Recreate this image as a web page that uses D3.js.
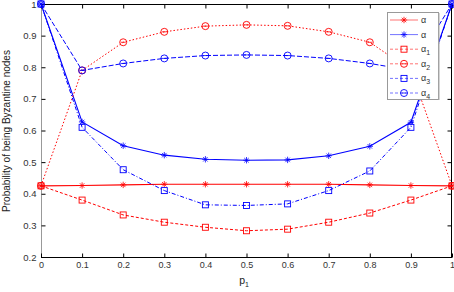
<!DOCTYPE html>
<html><head><meta charset="utf-8">
<script src="https://cdn.jsdelivr.net/npm/d3@7"></script>
<style>body{margin:0;background:#fff}svg{display:block;font-family:"Liberation Sans",Arial,sans-serif}</style>
</head><body><svg id="c" width="454" height="292"></svg>
<script>
const xs = [0,0.1,0.2,0.3,0.4,0.5,0.6,0.7,0.8,0.9,1];
const alphaRed  = [0.425,0.426,0.428,0.43,0.43,0.43,0.43,0.43,0.428,0.426,0.425];
const alphaBlue = [1.0,0.627,0.552,0.522,0.509,0.506,0.507,0.52,0.55,0.626,1.0];
const alpha1 = [0.425,0.38,0.333,0.31,0.294,0.283,0.288,0.31,0.339,0.38,0.425];
const alpha2 = [0.425,0.79,0.879,0.912,0.93,0.934,0.931,0.912,0.879,0.79,0.425];
const alpha3 = [1.0,0.61,0.476,0.41,0.365,0.363,0.368,0.41,0.472,0.61,1.0];
const alpha4 = [1.0,0.79,0.812,0.828,0.837,0.839,0.837,0.828,0.812,0.79,1.0];
const xTicks = [0,0.1,0.2,0.3,0.4,0.5,0.6,0.7,0.8,0.9,1];
const yTicks = [0.2,0.3,0.4,0.5,0.6,0.7,0.8,0.9,1];
const seriesNames = ["α","α","α1","α2","α3","α4"];

const series = [
  {name:seriesNames[0], v:alphaRed, color:"#ff0000", dash:null, marker:"star"},
  {name:seriesNames[1], v:alphaBlue, color:"#0000ff", dash:null, marker:"star"},
  {name:seriesNames[2], v:alpha1, color:"#ff0000", dash:"3,2", marker:"square"},
  {name:seriesNames[3], v:alpha2, color:"#ff0000", dash:"1.5,2", marker:"circle"},
  {name:seriesNames[4], v:alpha3, color:"#0000ff", dash:"4,2,1,2", marker:"square"},
  {name:seriesNames[5], v:alpha4, color:"#0000ff", dash:"5,2", marker:"circle"}
];

const svg = d3.select("#c");
const L=41, R=452, T=4, B=257;
const x = d3.scaleLinear().domain([0,1]).range([L,R]);
const y = d3.scaleLinear().domain([0.2,1]).range([B,T]);

// frame
svg.append("line").attr("x1",L).attr("x2",R).attr("y1",T+0.5).attr("y2",T+0.5).attr("stroke","#000");
svg.append("line").attr("x1",L).attr("x2",R).attr("y1",B+0.5).attr("y2",B+0.5).attr("stroke","#000");
svg.append("line").attr("x1",R-0.5).attr("x2",R-0.5).attr("y1",T).attr("y2",B).attr("stroke","#000");
svg.append("line").attr("x1",L+0.5).attr("x2",L+0.5).attr("y1",T).attr("y2",B).attr("stroke","#999");

const tickFont = 9;
// x axis bottom
const gx = svg.append("g").attr("transform",`translate(0,${B+0.5})`)
  .call(d3.axisBottom(x).tickValues(xTicks).tickSize(-4).tickPadding(4).tickFormat(d=>d3.format("~g")(d)));
gx.select(".domain").remove();
gx.selectAll("line").attr("stroke","#000");
gx.selectAll("text").attr("font-size",tickFont).attr("fill","#333").attr("font-family","Liberation Sans, Arial");
// x axis top ticks
const gxt = svg.append("g").attr("transform",`translate(0,${T+0.5})`)
  .call(d3.axisTop(x).tickValues(xTicks).tickSize(-4).tickFormat(""));
gxt.select(".domain").remove();
gxt.selectAll("line").attr("stroke","#000");
// y axis left
const gy = svg.append("g").attr("transform",`translate(${L+0.5},0)`)
  .call(d3.axisLeft(y).tickValues(yTicks).tickSize(-4).tickPadding(5).tickFormat(d=>d3.format("~g")(d)));
gy.select(".domain").remove();
gy.selectAll("line").attr("stroke","#000");
gy.selectAll("text").attr("font-size",tickFont+0.5).attr("fill","#333").attr("font-family","Liberation Sans, Arial");
// y axis right ticks
const gyr = svg.append("g").attr("transform",`translate(${R-0.5},0)`)
  .call(d3.axisRight(y).tickValues(yTicks).tickSize(-4).tickFormat(""));
gyr.select(".domain").remove();
gyr.selectAll("line").attr("stroke","#000");

// labels
svg.append("text").attr("transform","translate(10,131) rotate(-90)").attr("text-anchor","middle")
  .attr("font-size",10).attr("fill","#222").text("Probability of being Byzantine nodes");
const xl = svg.append("text").attr("x",244).attr("y",284).attr("text-anchor","middle").attr("font-size",10.5).attr("fill","#222");
xl.append("tspan").text("p");
xl.append("tspan").attr("font-size",7).attr("dy",3).text("1");

const line = d3.line().x((d,i)=>x(xs[i])).y(d=>y(d));

function drawMarker(g, type, cx, cy, color){
  if(type==="star"){
    const s=3.2;
    g.append("path").attr("d",`M${cx-s},${cy}H${cx+s}M${cx},${cy-s}V${cy+s}M${cx-s*0.7},${cy-s*0.7}L${cx+s*0.7},${cy+s*0.7}M${cx-s*0.7},${cy+s*0.7}L${cx+s*0.7},${cy-s*0.7}`)
      .attr("stroke",color).attr("stroke-width",0.8).attr("fill","none");
  } else if(type==="square"){
    g.append("rect").attr("x",cx-3).attr("y",cy-3).attr("width",6).attr("height",6)
      .attr("stroke",color).attr("stroke-width",0.9).attr("fill","none");
  } else {
    g.append("circle").attr("cx",cx).attr("cy",cy).attr("r",3.5)
      .attr("stroke",color).attr("stroke-width",0.9).attr("fill","none");
    g.append("line").attr("x1",cx-2.5).attr("x2",cx+2.5).attr("y1",cy).attr("y2",cy).attr("stroke",color).attr("stroke-width",0.8);
  }
}

const plot = svg.append("g");
series.forEach(s=>{
  plot.append("path").datum(s.v).attr("d",line).attr("fill","none")
    .attr("stroke",s.color).attr("stroke-width",s.dash?1:1.1)
    .attr("stroke-dasharray",s.dash);
  s.v.forEach((v,i)=>drawMarker(plot,s.marker,x(xs[i]),y(v),s.color));
});

// legend
const lg = svg.append("g");
lg.append("rect").attr("x",387.5).attr("y",12.5).attr("width",51).attr("height",87)
  .attr("fill","#fff").attr("stroke","#999").attr("stroke-width",1);
lg.append("line").attr("x1",439).attr("x2",439).attr("y1",13).attr("y2",100).attr("stroke","#aaa");
series.forEach((s,i)=>{
  const ly = 20 + i*14.6;
  lg.append("line").attr("x1",390).attr("x2",418).attr("y1",ly).attr("y2",ly)
    .attr("stroke",s.color).attr("stroke-width",1).attr("stroke-opacity",0.55)
    .attr("stroke-dasharray",s.dash?"3,2":null);
  drawMarker(lg,s.marker,404,ly,s.color);
  const t = lg.append("text").attr("x",421).attr("y",ly+3).attr("font-size",9).attr("fill","#333");
  t.append("tspan").text(s.name[0]);
  if(s.name.length>1) t.append("tspan").attr("font-size",7).attr("dy",3).text(s.name.slice(1));
});
</script></body></html>
